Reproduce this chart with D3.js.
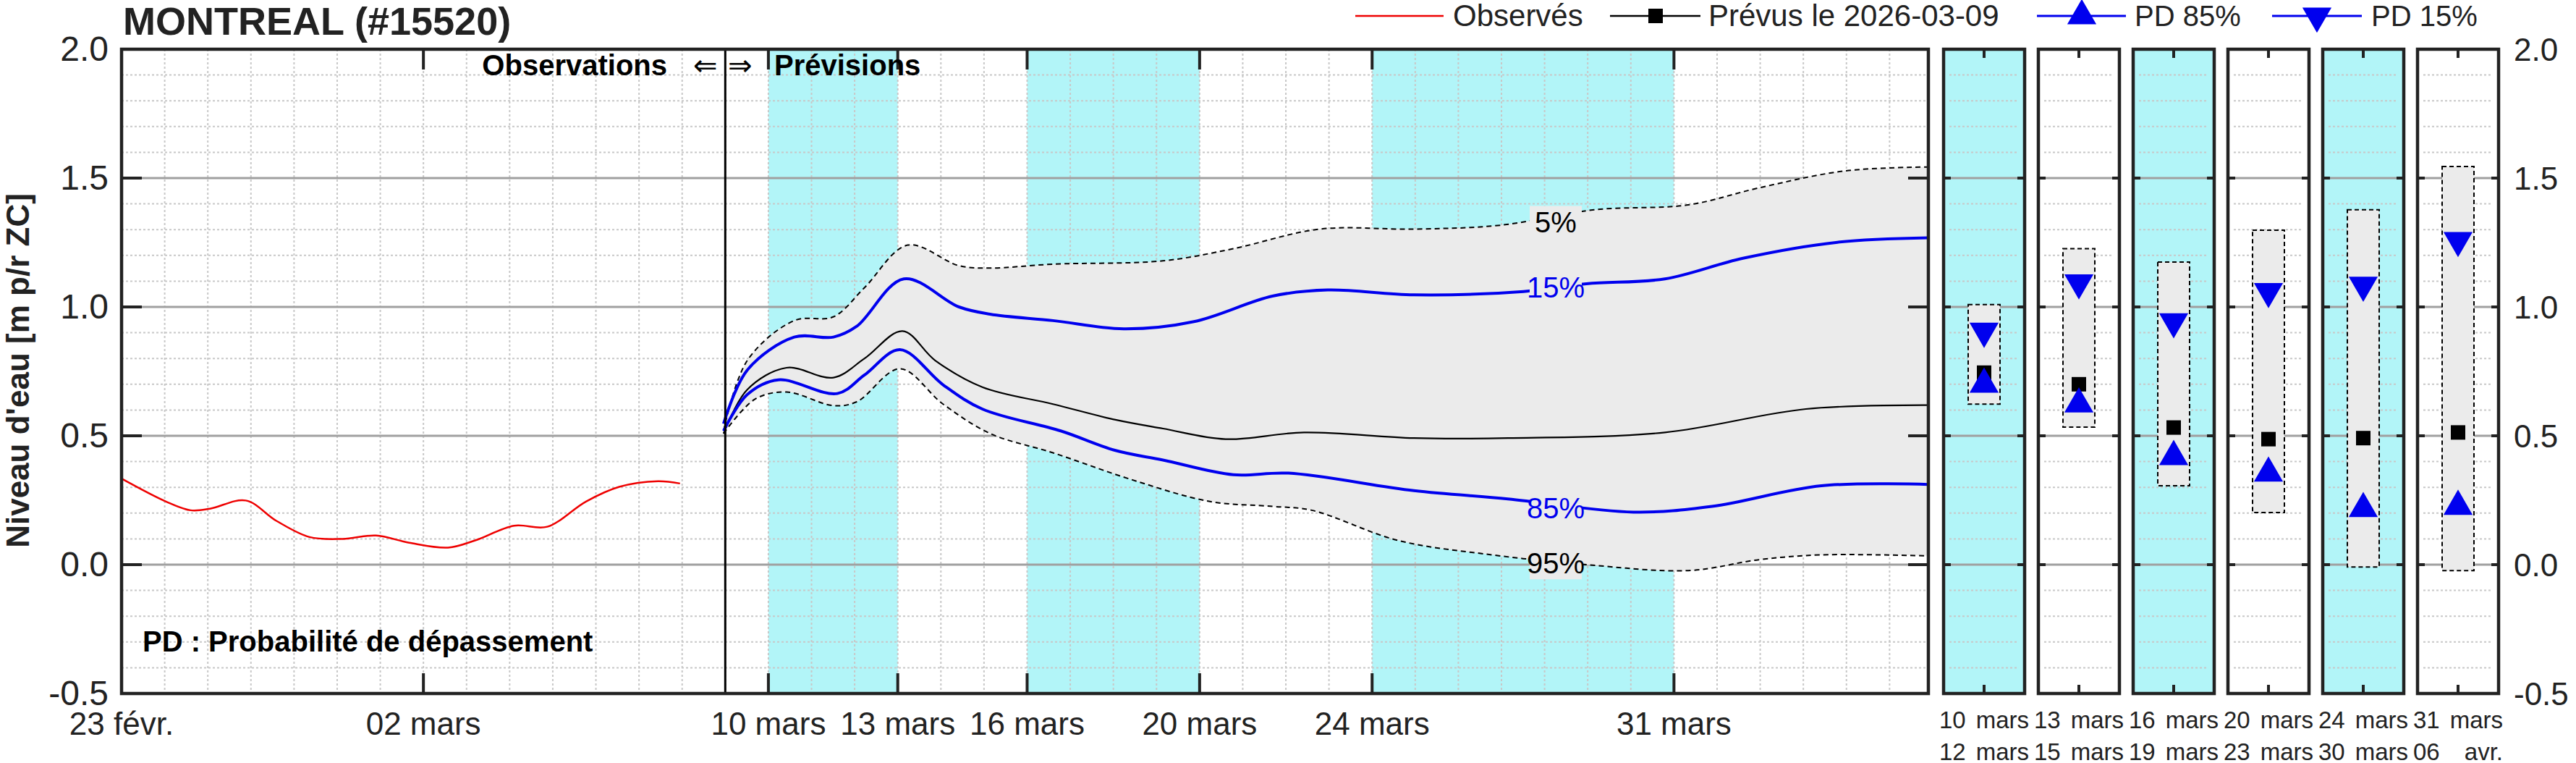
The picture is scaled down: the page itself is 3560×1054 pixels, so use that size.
<!DOCTYPE html>
<html><head><meta charset="utf-8">
<script src="https://cdn.jsdelivr.net/npm/d3@7"></script>
<style>body{margin:0;background:#fff}svg{display:block}</style>
</head><body>
<svg id="chart" width="3560" height="1054"></svg>
<script>
// days counted from 23 févr. 2026
var obsDays = [0, 1.03, 1.6, 2.05, 2.88, 3.59, 4.36, 5.13, 5.9, 6.67, 7.57, 8.2, 9.1, 9.87, 10.77, 11.54, 12.44, 12.95];
var obsVals = [0.334, 0.245, 0.211, 0.217, 0.249, 0.17, 0.107, 0.10, 0.113, 0.085, 0.066, 0.094, 0.151, 0.147, 0.245, 0.302, 0.324, 0.315];

var medDays = [13.96, 14.51, 15.42, 16.51, 17.23, 18.11, 18.87, 19.96, 21.6, 23.05, 24.15, 25.6, 27.42, 29.97, 32.15, 35.79, 39.06, 41.9];
var medVals = [0.509, 0.679, 0.764, 0.726, 0.80, 0.906, 0.792, 0.689, 0.623, 0.562, 0.528, 0.487, 0.513, 0.491, 0.491, 0.513, 0.604, 0.619];

var p15Days = [13.96, 14.51, 15.6, 16.51, 17.05, 18.14, 19.42, 20.14, 21.6, 23.24, 24.87, 26.69, 27.97, 29.97, 32.51, 33.97, 35.79, 37.6, 39.79, 41.9];
var p15Vals = [0.547, 0.755, 0.883, 0.883, 0.925, 1.109, 1.0, 0.972, 0.947, 0.915, 0.943, 1.042, 1.066, 1.047, 1.06, 1.09, 1.109, 1.189, 1.251, 1.268];

var p85Days = [13.96, 14.51, 15.23, 16.6, 17.23, 18.05, 19.05, 19.96, 21.78, 23.05, 24.15, 25.78, 27.06, 29.97, 32.15, 35.06, 36.88, 39.42, 41.9];
var p85Vals = [0.519, 0.66, 0.717, 0.664, 0.736, 0.834, 0.698, 0.604, 0.519, 0.443, 0.406, 0.349, 0.355, 0.287, 0.255, 0.204, 0.226, 0.306, 0.311];

var p5Days = [13.96, 14.51, 15.6, 16.51, 17.23, 18.23, 19.42, 20.14, 21.6, 24.15, 25.78, 27.78, 29.97, 31.97, 34.15, 36.33, 37.97, 39.97, 41.9];
var p5Vals = [0.519, 0.792, 0.947, 0.962, 1.075, 1.24, 1.16, 1.151, 1.166, 1.179, 1.226, 1.302, 1.302, 1.317, 1.377, 1.396, 1.462, 1.528, 1.543];

var p95Days = [13.96, 14.69, 15.42, 16.51, 17.05, 18.05, 19.05, 20.14, 21.6, 23.42, 25.24, 26.69, 27.6, 29.6, 31.78, 33.97, 36.33, 37.97, 39.42, 41.9];
var p95Vals = [0.509, 0.642, 0.67, 0.617, 0.632, 0.76, 0.623, 0.509, 0.434, 0.33, 0.245, 0.226, 0.211, 0.094, 0.038, 0.0, -0.023, 0.019, 0.038, 0.034];

var dateTicks = [0, 7, 15, 18, 21, 25, 29, 36];
var dateLabels = ["23 févr.", "02 mars", "10 mars", "13 mars", "16 mars", "20 mars", "24 mars", "31 mars"];
var cyanBands = [[15, 18], [21, 25], [29, 36]];

var panelTop = ["10", "13", "16", "20", "24", "31"];
var panelTopM = ["mars", "mars", "mars", "mars", "mars", "mars"];
var panelBot = ["12", "15", "19", "23", "30", "06"];
var panelBotM = ["mars", "mars", "mars", "mars", "mars", "avr."];
var panelCyan = [true, false, true, false, true, false];
var boxHigh = [1.009, 1.226, 1.174, 1.298, 1.377, 1.545];
var boxLow = [0.623, 0.534, 0.306, 0.202, -0.009, -0.023];
var pd15 = [0.906, 1.094, 0.943, 1.06, 1.085, 1.258];
var pd85 = [0.70, 0.623, 0.419, 0.355, 0.217, 0.226];
var median = [0.745, 0.70, 0.532, 0.487, 0.491, 0.513];

var yTicks = [2.0, 1.5, 1.0, 0.5, 0.0, -0.5];

var svg = d3.select("#chart");
var narrow = "'Liberation Sans Narrow', 'Liberation Sans', Arial, sans-serif";
var reg = "'Liberation Sans', Arial, sans-serif";
var CYAN = "#b2f5f8", FILL = "#ebebeb";

var yTop = 68, yBot = 958;
var y = d3.scaleLinear().domain([-0.5, 2.0]).range([yBot, yTop]);
var x = d3.scaleLinear().domain([0, 41.9]).range([168, 2665]);

// main plot
var g = svg.append("g");
cyanBands.forEach(b => g.append("rect").attr("x", x(b[0])).attr("y", yTop)
    .attr("width", x(b[1]) - x(b[0])).attr("height", yBot - yTop).attr("fill", CYAN));

// dotted grid
d3.range(1, 42).forEach(d => g.append("line").attr("x1", x(d)).attr("x2", x(d))
    .attr("y1", yTop).attr("y2", yBot).attr("stroke", "#c8c8c8").attr("stroke-width", 2).attr("stroke-dasharray", "3,3"));
d3.range(-4, 20).forEach(i => {
  if (i % 5 == 0) return;
  g.append("line").attr("x1", x(0)).attr("x2", x(41.9)).attr("y1", y(i / 10)).attr("y2", y(i / 10))
    .attr("stroke", "#c8c8c8").attr("stroke-width", 2).attr("stroke-dasharray", "3,3");
});
[1.5, 1.0, 0.5, 0.0].forEach(v => g.append("line").attr("x1", x(0)).attr("x2", x(41.9))
    .attr("y1", y(v)).attr("y2", y(v)).attr("stroke", "#a0a0a0").attr("stroke-width", 3));

var line = d3.line().x(d => x(d[0])).y(d => y(d[1])).curve(d3.curveCatmullRom);
var pts = (ds, vs) => ds.map((d, i) => [d, vs[i]]);

// band 5%-95%
var upper = pts(p5Days, p5Vals), lower = pts(p95Days, p95Vals).reverse();
g.append("path").attr("d", line(upper) + line(lower).replace(/^M/, "L") + "Z").attr("fill", FILL);
g.append("path").attr("d", line(upper)).attr("fill", "none").attr("stroke", "#000").attr("stroke-width", 2).attr("stroke-dasharray", "7,5");
g.append("path").attr("d", line(pts(p95Days, p95Vals))).attr("fill", "none").attr("stroke", "#000").attr("stroke-width", 2).attr("stroke-dasharray", "7,5");
g.append("path").attr("d", line(pts(medDays, medVals))).attr("fill", "none").attr("stroke", "#000").attr("stroke-width", 2.2);
g.append("path").attr("d", line(pts(p15Days, p15Vals))).attr("fill", "none").attr("stroke", "#0000ee").attr("stroke-width", 4);
g.append("path").attr("d", line(pts(p85Days, p85Vals))).attr("fill", "none").attr("stroke", "#0000ee").attr("stroke-width", 4);
g.append("path").attr("d", line(pts(obsDays, obsVals))).attr("fill", "none").attr("stroke", "#ee0000").attr("stroke-width", 2.5);

// percent labels
[["5%", 1.33, "#000"], ["15%", 1.075, "#0000ee"], ["85%", 0.22, "#0000ee"], ["95%", 0.005, "#000"]].forEach(l => {
  var lx = 2150;
  g.append("rect").attr("x", lx - 36).attr("y", y(l[1]) - 22).attr("width", 72).attr("height", 44).attr("fill", FILL);
  g.append("text").attr("x", lx).attr("y", y(l[1]) + 14).attr("text-anchor", "middle")
    .attr("font-family", narrow).attr("font-size", 40).attr("fill", l[2]).text(l[0]);
});

// obs / forecast divider
g.append("line").attr("x1", x(14)).attr("x2", x(14)).attr("y1", yTop).attr("y2", yBot).attr("stroke", "#000").attr("stroke-width", 3);

// ticks
dateTicks.forEach(d => {
  g.append("line").attr("x1", x(d)).attr("x2", x(d)).attr("y1", yBot).attr("y2", yBot - 28).attr("stroke", "#222").attr("stroke-width", 4);
  g.append("line").attr("x1", x(d)).attr("x2", x(d)).attr("y1", yTop).attr("y2", yTop + 28).attr("stroke", "#222").attr("stroke-width", 4);
});
yTicks.forEach(v => {
  g.append("line").attr("x1", x(0)).attr("x2", x(0) + 28).attr("y1", y(v)).attr("y2", y(v)).attr("stroke", "#222").attr("stroke-width", 4);
  g.append("line").attr("x1", x(41.9)).attr("x2", x(41.9) - 28).attr("y1", y(v)).attr("y2", y(v)).attr("stroke", "#222").attr("stroke-width", 4);
  g.append("text").attr("x", 150).attr("y", y(v) + 16).attr("text-anchor", "end")
    .attr("font-family", narrow).attr("font-size", 48).attr("fill", "#222").text(v.toFixed(1));
  svg.append("text").attr("x", 3474).attr("y", y(v) + 16)
    .attr("font-family", reg).attr("font-size", 44).attr("fill", "#222").text(v.toFixed(1));
});
g.append("rect").attr("x", x(0)).attr("y", yTop).attr("width", x(41.9) - x(0)).attr("height", yBot - yTop)
  .attr("fill", "none").attr("stroke", "#222").attr("stroke-width", 4.5);
dateLabels.forEach((t, i) => g.append("text").attr("x", x(dateTicks[i])).attr("y", 1015).attr("text-anchor", "middle")
  .attr("font-family", narrow).attr("font-size", 44).attr("fill", "#222").text(t));

// annotations
g.append("text").attr("x", 922).attr("y", 104).attr("text-anchor", "end").attr("font-family", narrow)
  .attr("font-weight", "bold").attr("font-size", 40).text("Observations");
g.append("text").attr("x", 958).attr("y", 104).attr("font-family", "'DejaVu Sans', sans-serif").attr("font-size", 40).text("\u21D0");
g.append("text").attr("x", 1006).attr("y", 104).attr("font-family", "'DejaVu Sans', sans-serif").attr("font-size", 40).text("\u21D2");
g.append("text").attr("x", 1070).attr("y", 104).attr("font-family", narrow)
  .attr("font-weight", "bold").attr("font-size", 40).text("Prévisions");
g.append("text").attr("x", 197).attr("y", 900).attr("font-family", narrow)
  .attr("font-weight", "bold").attr("font-size", 40).text("PD : Probabilité de dépassement");

svg.append("text").attr("x", 170).attr("y", 48).attr("font-family", narrow).attr("font-weight", "bold")
  .attr("font-size", 54).attr("fill", "#222").text("MONTREAL (#15520)");
svg.append("text").attr("transform", "translate(40,512) rotate(-90)").attr("text-anchor", "middle")
  .attr("font-family", reg).attr("font-weight", "bold").attr("font-size", 44).attr("fill", "#222")
  .text("Niveau d'eau [m p/r ZC]");

// small panels
var pw = 112, step = 131, p0 = 2686;
var tri = d3.symbol().type(d3.symbolTriangle).size(700);
panelTop.forEach((lab, i) => {
  var px = p0 + i * step, cx = px + pw / 2;
  var pg = svg.append("g");
  pg.append("rect").attr("x", px).attr("y", yTop).attr("width", pw).attr("height", yBot - yTop).attr("fill", panelCyan[i] ? CYAN : "#fff");
  d3.range(-4, 20).forEach(k => {
    if (k % 5 == 0) return;
    pg.append("line").attr("x1", px + 8).attr("x2", px + pw - 8).attr("y1", y(k / 10)).attr("y2", y(k / 10))
      .attr("stroke", "#c8c8c8").attr("stroke-width", 2).attr("stroke-dasharray", "3,3");
  });
  [1.5, 1.0, 0.5, 0.0].forEach(v => pg.append("line").attr("x1", px).attr("x2", px + pw)
    .attr("y1", y(v)).attr("y2", y(v)).attr("stroke", "#a0a0a0").attr("stroke-width", 3));
  yTicks.forEach(v => {
    pg.append("line").attr("x1", px).attr("x2", px + 10).attr("y1", y(v)).attr("y2", y(v)).attr("stroke", "#222").attr("stroke-width", 4);
    pg.append("line").attr("x1", px + pw).attr("x2", px + pw - 10).attr("y1", y(v)).attr("y2", y(v)).attr("stroke", "#222").attr("stroke-width", 4);
  });
  pg.append("line").attr("x1", cx).attr("x2", cx).attr("y1", yTop).attr("y2", yTop + 12).attr("stroke", "#222").attr("stroke-width", 4);
  pg.append("line").attr("x1", cx).attr("x2", cx).attr("y1", yBot).attr("y2", yBot - 12).attr("stroke", "#222").attr("stroke-width", 4);
  pg.append("rect").attr("x", cx - 22).attr("y", y(boxHigh[i])).attr("width", 44).attr("height", y(boxLow[i]) - y(boxHigh[i]))
    .attr("fill", FILL).attr("stroke", "#000").attr("stroke-width", 2).attr("stroke-dasharray", "6,4");
  pg.append("rect").attr("x", cx - 10).attr("y", y(median[i]) - 10).attr("width", 20).attr("height", 20).attr("fill", "#000");
  pg.append("path").attr("d", tri).attr("transform", `translate(${cx},${y(pd85[i])})`).attr("fill", "#0000ee");
  pg.append("path").attr("d", tri).attr("transform", `translate(${cx},${y(pd15[i])}) rotate(180)`).attr("fill", "#0000ee");
  pg.append("rect").attr("x", px).attr("y", yTop).attr("width", pw).attr("height", yBot - yTop)
    .attr("fill", "none").attr("stroke", "#222").attr("stroke-width", 4.5);
  [[lab, panelTopM[i], 1006], [panelBot[i], panelBotM[i], 1050]].forEach(r => {
    pg.append("text").attr("x", px - 6).attr("y", r[2]).attr("font-family", reg).attr("font-size", 33).attr("fill", "#222").text(r[0]);
    pg.append("text").attr("x", px + pw + 6).attr("y", r[2]).attr("text-anchor", "end").attr("font-family", reg).attr("font-size", 33).attr("fill", "#222").text(r[1]);
  });
});

// legend
var lg = svg.append("g");
var ly = 22;
lg.append("line").attr("x1", 1873).attr("x2", 1995).attr("y1", ly).attr("y2", ly).attr("stroke", "#ee0000").attr("stroke-width", 2.5);
lg.append("text").attr("x", 2008).attr("y", ly + 14).attr("font-family", narrow).attr("font-size", 42).attr("fill", "#222").text("Observés");
lg.append("line").attr("x1", 2225).attr("x2", 2350).attr("y1", ly).attr("y2", ly).attr("stroke", "#000").attr("stroke-width", 2.5);
lg.append("rect").attr("x", 2278).attr("y", ly - 10).attr("width", 20).attr("height", 20).attr("fill", "#000");
lg.append("text").attr("x", 2361).attr("y", ly + 14).attr("font-family", narrow).attr("font-size", 42).attr("fill", "#222").text("Prévus le 2026-03-09");
lg.append("line").attr("x1", 2815).attr("x2", 2938).attr("y1", ly).attr("y2", ly).attr("stroke", "#0000ee").attr("stroke-width", 3);
lg.append("path").attr("d", tri).attr("transform", `translate(2877,${ly})`).attr("fill", "#0000ee");
lg.append("text").attr("x", 2950).attr("y", ly + 14).attr("font-family", reg).attr("font-size", 40).attr("fill", "#222").text("PD 85%");
lg.append("line").attr("x1", 3140).attr("x2", 3264).attr("y1", ly).attr("y2", ly).attr("stroke", "#0000ee").attr("stroke-width", 3);
lg.append("path").attr("d", tri).attr("transform", `translate(3202,${ly}) rotate(180)`).attr("fill", "#0000ee");
lg.append("text").attr("x", 3277).attr("y", ly + 14).attr("font-family", reg).attr("font-size", 40).attr("fill", "#222").text("PD 15%");
</script>
</body></html>
